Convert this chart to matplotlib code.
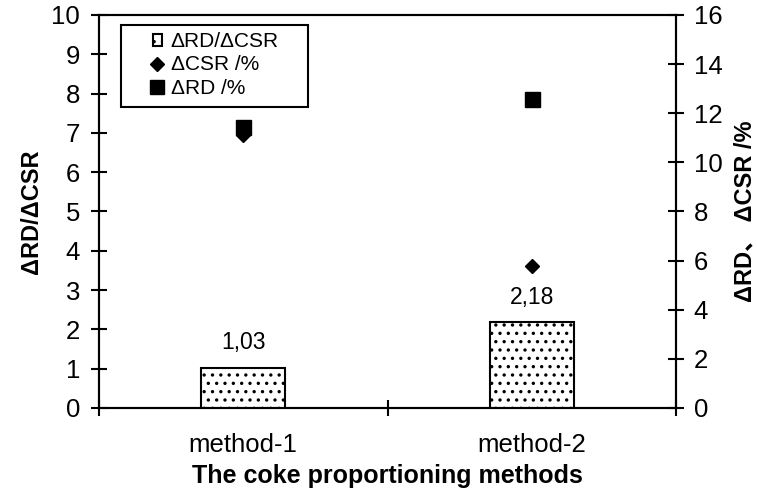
import matplotlib
matplotlib.use("Agg")
import matplotlib.pyplot as plt
from matplotlib.patches import Rectangle

plt.rcParams["font.family"] = ["Liberation Sans", "Noto Sans CJK SC", "DejaVu Sans"]
plt.rcParams["hatch.linewidth"] = 1.2

# data
methods = ["method-1", "method-2"]
ratio = [1.03, 2.18]          # ΔRD/ΔCSR, left axis
d_csr = [11.1, 5.8]           # ΔCSR /%, right axis
d_rd = [11.45, 12.6]          # ΔRD /%, right axis

fig = plt.figure(figsize=(7.57, 4.95), dpi=100)
ax = fig.add_axes([0.1308, 0.1758, 0.7622, 0.7939])
ax2 = ax.twinx()

pos = [i + 0.5 for i in range(len(methods))]

bars = ax.bar(pos, ratio, width=0.29, color="white", edgecolor="black",
              linewidth=1.5, hatch="..", label="ΔRD/ΔCSR", zorder=3)
for x, v in zip(pos, ratio):
    ax.annotate(f"{v:.2f}".replace(".", ","), (x, v), xytext=(0, 18),
                textcoords="offset points", ha="center", va="center",
                fontsize=16.5)

l_csr, = ax2.plot(pos, d_csr, linestyle="none", marker="D", markersize=7.6,
                  color="black", label="ΔCSR /%", zorder=4)
l_rd, = ax2.plot(pos, d_rd, linestyle="none", marker="s", markersize=10.8,
                 color="black", label="ΔRD /%", zorder=4)

ax.set_xlim(0, 2)
ax.set_ylim(0, 10)
ax2.set_ylim(0, 16)
ax.set_yticks(range(0, 11))
ax2.set_yticks(range(0, 17, 2))
ax.set_xticks([0, 1, 2])
ax.set_xticklabels([])
ax.set_xticks(pos, minor=True)
ax.set_xticklabels(methods, minor=True, fontsize=18.5)
ax.tick_params(axis="x", which="minor", length=0, pad=18)
ax.tick_params(axis="x", which="major", direction="inout", length=11.5,
               width=1.5)
ax.tick_params(axis="y", direction="inout", length=11.5, width=1.5,
               labelsize=18.5, pad=8)
ax2.tick_params(axis="y", direction="inout", length=11.5, width=1.5,
                labelsize=18.5, pad=7)

for a in (ax, ax2):
    for s in a.spines.values():
        s.set_linewidth(1.5)

ax.set_xlabel("The coke proportioning methods", fontsize=18,
              fontweight="bold", labelpad=5)
ax.set_ylabel("ΔRD/ΔCSR", fontsize=17, fontweight="bold", labelpad=6)
ax2.set_ylabel("ΔRD、 ΔCSR /%", fontsize=17, fontweight="bold", labelpad=8)

# legend frame is wider than its content, so draw it separately
ax2.add_patch(Rectangle((0.038, 0.766), 0.324, 0.209, transform=ax2.transAxes,
                        facecolor="white", edgecolor="black", linewidth=1.5,
                        zorder=5))
leg = ax2.legend(handles=[bars, l_csr, l_rd], loc="center left",
                 bbox_to_anchor=(0.094, 0.873), frameon=False, fontsize=15,
                 borderpad=0, borderaxespad=0, labelspacing=0.2,
                 handlelength=0.4, handleheight=0.55, handletextpad=0.43,
                 markerscale=0.9)
leg.set_zorder(6)

plt.savefig("out.png", dpi=100)
plt.close()
